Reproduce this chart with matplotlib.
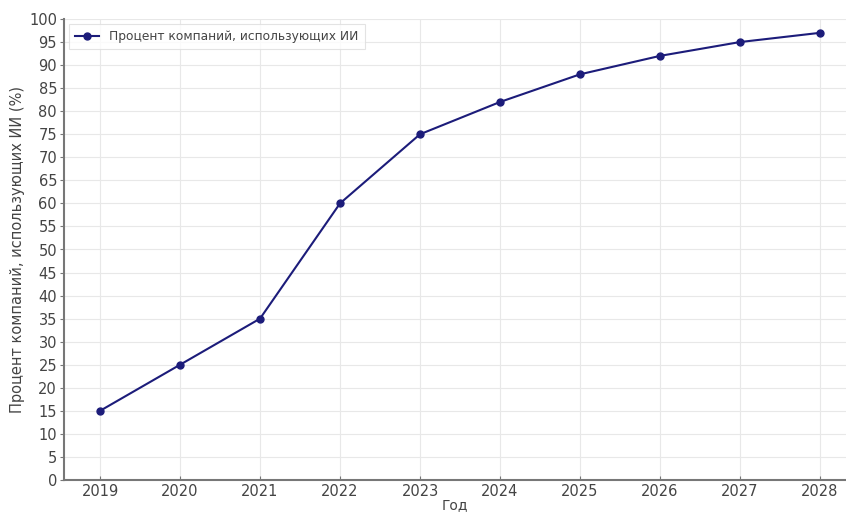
import matplotlib
matplotlib.use("Agg")
import matplotlib.pyplot as plt

years = [2019, 2020, 2021, 2022, 2023, 2024, 2025, 2026, 2027, 2028]
values = [15, 25, 35, 60, 75, 82, 88, 92, 95, 97]
series_label = "Процент компаний, использующих ИИ"
xlabel = "Год"
ylabel = "Процент компаний, использующих ИИ (%)"

plt.rcParams['font.family'] = ['DejaVu Sans']
fig = plt.figure(figsize=(8.46, 5.14), dpi=100)
ax = fig.add_axes([64/846, 34/514, 1 - 64/846, (480-19)/514])

ax.plot(years, values, color='#1c1c7a', marker='o', markersize=5, linewidth=1.5, label=series_label)

ax.set_xlim(2018.55, 2028.325)
ax.set_ylim(0, 100)
ax.set_xticks(years)
ax.set_yticks(range(0, 101, 5))
ax.grid(True, color='#e8e8e8', linewidth=0.8)
ax.set_axisbelow(True)
for s in ['top', 'right']:
    ax.spines[s].set_visible(False)
for s in ['left', 'bottom']:
    ax.spines[s].set_color('#777777')
    ax.spines[s].set_linewidth(1.5)
ax.tick_params(axis='x', direction='in', length=3, colors='#777777', labelcolor='#444444', labelsize=10.5, pad=3)
ax.tick_params(axis='y', direction='out', length=3, colors='#777777', labelcolor='#444444', labelsize=10.5, pad=2)
ax.set_xlabel(xlabel, fontsize=10, color='#444444', labelpad=-1)
ax.set_ylabel(ylabel, fontsize=10.5, color='#444444', labelpad=3)
leg = ax.legend(loc='upper left', fontsize=8.8, frameon=True, fancybox=False, edgecolor='#dddddd',
                labelcolor='#444444', borderaxespad=0.4, borderpad=0.5)
leg.get_frame().set_linewidth(0.8)

fig.savefig("out.png", dpi=100)
